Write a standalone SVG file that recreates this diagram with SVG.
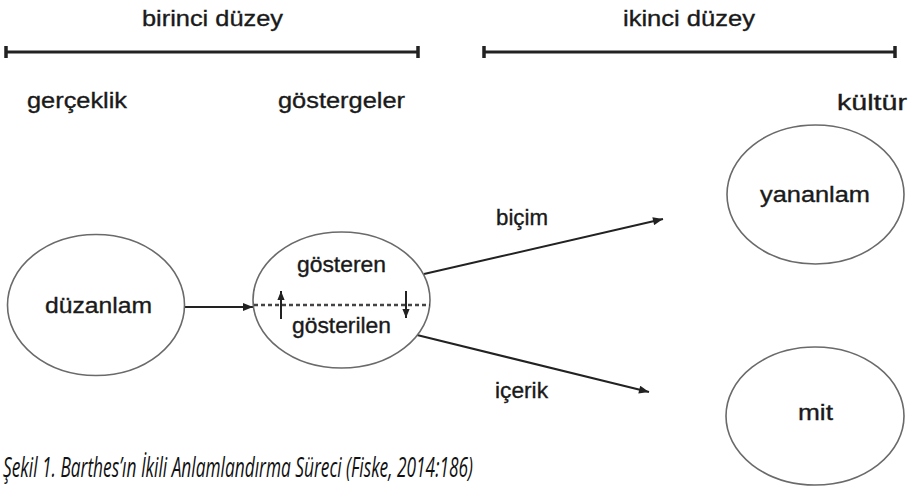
<svg xmlns="http://www.w3.org/2000/svg" width="916" height="488" viewBox="0 0 916 488">
<style>
text{font-family:"Liberation Sans",Arial,sans-serif;font-size:22px;fill:#1a1a1a;stroke:#1a1a1a;stroke-width:0.35}
.node{fill:#fff;stroke:#6a6a6a;stroke-width:1.6}
.bar{stroke:#222;stroke-width:3;fill:none}
.tick{stroke:#222;stroke-width:3.5}
.conn{stroke:#222;stroke-width:2;fill:none}
.cap{font-family:"Open Sans","Noto Sans",sans-serif;font-style:italic;font-size:28px;fill:#111;stroke:none}
</style>
<defs>
<marker id="ah" viewBox="0 0 10 8" refX="10" refY="4" markerWidth="11" markerHeight="8" markerUnits="userSpaceOnUse" orient="auto">
<path d="M0,0 L10,4 L0,8 Z" fill="#222"/>
</marker>
<marker id="ahs" viewBox="0 0 10 8" refX="10" refY="4" markerWidth="9" markerHeight="8" markerUnits="userSpaceOnUse" orient="auto">
<path d="M0,0 L10,4 L0,8 Z" fill="#222"/>
</marker>
</defs>
<g id="levels">
<text x="142" y="26" textLength="141" lengthAdjust="spacingAndGlyphs">birinci düzey</text>
<line class="bar" x1="6" y1="52" x2="418" y2="52"/>
<line class="tick" x1="6" y1="46" x2="6" y2="58"/>
<line class="tick" x1="418" y1="46" x2="418" y2="58"/>
<text x="623" y="26" textLength="132" lengthAdjust="spacingAndGlyphs">ikinci düzey</text>
<line class="bar" x1="484" y1="52" x2="895" y2="52"/>
<line class="tick" x1="484" y1="46" x2="484" y2="58"/>
<line class="tick" x1="895" y1="46" x2="895" y2="58"/>
<text x="27" y="108" textLength="100" lengthAdjust="spacingAndGlyphs">gerçeklik</text>
<text x="278" y="108" textLength="127" lengthAdjust="spacingAndGlyphs">göstergeler</text>
<text x="837" y="110" textLength="70" lengthAdjust="spacingAndGlyphs">kültür</text>
</g>
<g id="connectors">
<line class="conn" x1="184" y1="307" x2="253" y2="307" marker-end="url(#ah)"/>
<line class="conn" x1="424" y1="274" x2="663" y2="219" marker-end="url(#ah)"/>
<line class="conn" x1="417" y1="335" x2="649" y2="392" marker-end="url(#ah)"/>
<text x="496" y="225" textLength="52" lengthAdjust="spacingAndGlyphs">biçim</text>
<text x="495" y="398" textLength="53" lengthAdjust="spacingAndGlyphs">içerik</text>
</g>
<g id="duzanlam">
<ellipse class="node" cx="96" cy="305" rx="88.5" ry="70.5"/>
<text x="45" y="313" textLength="107" lengthAdjust="spacingAndGlyphs">düzanlam</text>
</g>
<g id="gosteren">
<ellipse class="node" cx="341.5" cy="300" rx="88.5" ry="68"/>
<text x="297" y="272" textLength="89" lengthAdjust="spacingAndGlyphs">gösteren</text>
<text x="292" y="333" textLength="99" lengthAdjust="spacingAndGlyphs">gösterilen</text>
<line x1="254" y1="305" x2="430" y2="305" stroke="#444" stroke-width="2.5" stroke-dasharray="4,3"/>
<line class="conn" x1="281" y1="319" x2="281" y2="291" stroke-width="2.4" marker-end="url(#ahs)"/>
<line class="conn" x1="406" y1="291" x2="406" y2="318" stroke-width="2.4" marker-end="url(#ahs)"/>
</g>
<g id="yananlam">
<ellipse class="node" cx="815.5" cy="194.5" rx="88.5" ry="69.5"/>
<text x="760" y="202" textLength="110" lengthAdjust="spacingAndGlyphs">yananlam</text>
</g>
<g id="mit">
<ellipse class="node" cx="815" cy="416" rx="89" ry="69"/>
<text x="798" y="420" textLength="35" lengthAdjust="spacingAndGlyphs">mit</text>
</g>
<text class="cap" x="3" y="477" textLength="470" lengthAdjust="spacingAndGlyphs">Şekil 1. Barthes’ın İkili Anlamlandırma Süreci (Fiske, 2014:186)</text>
</svg>
